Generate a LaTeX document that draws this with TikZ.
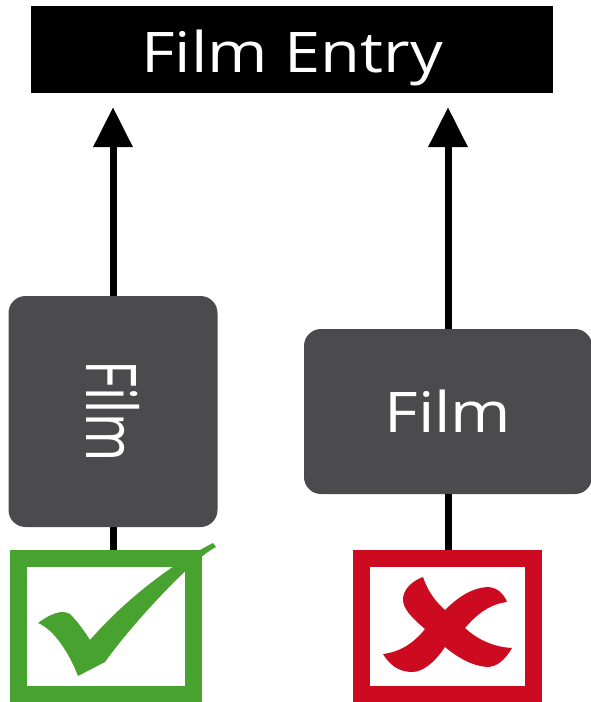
\documentclass[tikz,border=0pt]{standalone}
\usepackage{fontspec}
\setmainfont{Open Sans}
\usetikzlibrary{arrows.meta}
\definecolor{boxgray}{HTML}{4B4B4D}
\definecolor{okgreen}{HTML}{48A22F}
\definecolor{nored}{HTML}{CC0A20}
\newcommand\widetxt[1]{\scalebox{1.16}[1]{#1}}
\begin{document}
\begin{tikzpicture}[x=1pt,y=-1pt,
  film/.style={fill=boxgray,rounded corners=17pt,text=white,inner sep=0pt,font=\fontsize{56}{60}\selectfont},
  tickbox/.style={draw,line width=17pt,inner sep=0pt},
  link/.style={line width=7pt},
  up/.style={link,-{Triangle[length=40pt,width=38pt]},shorten >=14pt}]
\useasboundingbox (0,0) rectangle (590,702);
\node[fill=black,text=white,inner sep=0pt,minimum width=522pt,minimum height=87pt,text height=45pt,text depth=0pt,font=\fontsize{56}{60}\selectfont] (entry) at (292,49.5) {\widetxt{Film Entry}};
\node[film,minimum width=209pt,minimum height=231pt] (f1) at (113,411.5) {\rotatebox{-90}{\fontsize{70}{70}\selectfont\scalebox{0.74}[1]{Film}}};
\node[film,minimum width=288pt,minimum height=165pt] (f2) at (448,411.5) {\widetxt{Film}};
\node[tickbox,draw=okgreen,minimum width=175pt,minimum height=136pt] (ok) at (106,626.5) {};
\node[tickbox,draw=nored,minimum width=172pt,minimum height=136pt] (no) at (447.5,626.5) {};
\foreach \f in {f1,f2} {
  \draw[up] (\f.north) -- (\f.north |- entry.south);
}
\draw[link] (f1.south) -- (f1.south |- ok.north);
\draw[link] (f2.south) -- (f2.south |- no.north);
% tick
\fill[okgreen] (38,623) .. controls (50,614) and (62,609) .. (70,614)
  .. controls (78,622) and (85,632) .. (90,640)
  .. controls (125,600) and (170,565) .. (213,543) -- (216,547)
  .. controls (195,557) and (135,620) .. (105,662) -- (78,676)
  .. controls (70,655) and (55,630) .. (38,623) -- cycle;
% cross
\fill[nored] (423,577) .. controls (428,592) and (436,602) .. (445,610)
  .. controls (458,597) and (472,588) .. (487,587)
  .. controls (497,587) and (504,594) .. (507,602)
  .. controls (490,604) and (477,614) .. (465,628)
  .. controls (478,640) and (494,647) .. (512,648)
  .. controls (505,660) and (497,667) .. (487,667)
  .. controls (472,666) and (457,657) .. (445,647)
  .. controls (435,662) and (423,672) .. (412,672)
  .. controls (398,672) and (389,664) .. (383,654)
  .. controls (400,652) and (414,643) .. (425,629)
  .. controls (412,618) and (402,608) .. (403,598)
  .. controls (404,589) and (412,581) .. (423,577) -- cycle;
\end{tikzpicture}
\end{document}
